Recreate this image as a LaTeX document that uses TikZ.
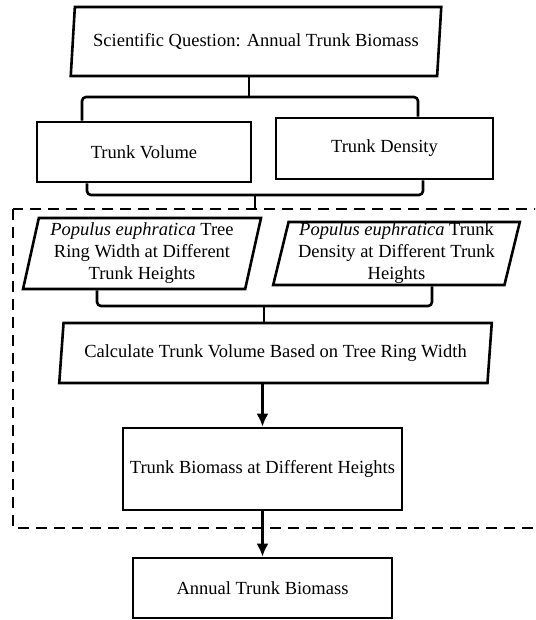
\documentclass[tikz,border=0pt]{standalone}
\usepackage{fontspec}
\setmainfont{Liberation Serif}
\usetikzlibrary{shapes.geometric,arrows.meta}
\begin{document}
\begin{tikzpicture}[x=1pt,y=-1pt,line width=2.6pt,
    font=\fontsize{18.5}{22}\selectfont,
    box/.style={draw,rectangle,inner sep=0pt,align=center},
    para/.style={draw,trapezium,trapezium left angle=77,trapezium right angle=103,
      trapezium stretches=true,inner sep=0pt,align=center},
    brace/.style={rounded corners=4pt}]
  \clip (0,0) rectangle (535,620);
  \node[para,minimum width=372pt,minimum height=69pt] (q) at (256,41.5)
    {Scientific Question: Annual Trunk Biomass};
  \node[box,minimum width=214pt,minimum height=60pt] (vol) at (144,152) {Trunk Volume};
  \node[box,minimum width=217pt,minimum height=61pt] (den) at (384.5,148.5) {Trunk Density};
  \node[para,minimum width=238pt,minimum height=71pt] (ring) at (142,253.5)
    {\textit{Populus euphratica} Tree\\Ring Width at Different\\Trunk Heights};
  \node[para,minimum width=247pt,minimum height=63pt] (dens) at (396.5,253.5)
    {\textit{Populus euphratica} Trunk\\Density at Different Trunk\\Heights};
  \node[para,minimum width=435pt,minimum height=60pt] (calc) at (275.5,353)
    {Calculate Trunk Volume Based on Tree Ring Width};
  \node[box,minimum width=279pt,minimum height=82pt] (bio) at (262.5,469)
    {Trunk Biomass at Different Heights};
  \node[box,minimum width=259pt,minimum height=60pt] (ann) at (262.5,588) {Annual Trunk Biomass};

  \coordinate (dtl) at (13,209);
  \coordinate (dbr) at (545,528);
  \draw[dash pattern=on 11pt off 7pt] (dtl) rectangle (dbr);

  \coordinate (b1) at (249,97);
  \draw (b1) -- (b1 |- q.south);
  \draw[brace] ([xshift=-62pt]vol.north) |- (b1) -| ([xshift=33.5pt]den.north);
  \coordinate (b2) at (255,195);
  \draw[brace] ([xshift=-57pt]vol.south) |- (b2) -| ([xshift=38.5pt]den.south);
  \draw (b2) -- (b2 |- dtl);
  \coordinate (b3) at (264,306);
  \draw[brace] ([xshift=-45pt]ring.south) |- (b3) -| ([xshift=35.5pt]dens.south);
  \draw (b3) -- (b3 |- calc.north);

  \draw[-{Latex[length=13pt,width=12pt]}] (calc.south -| bio.north) -- (bio.north);
  \draw[-{Latex[length=13pt,width=12pt]}] (bio) -- (ann);
\end{tikzpicture}
\end{document}
